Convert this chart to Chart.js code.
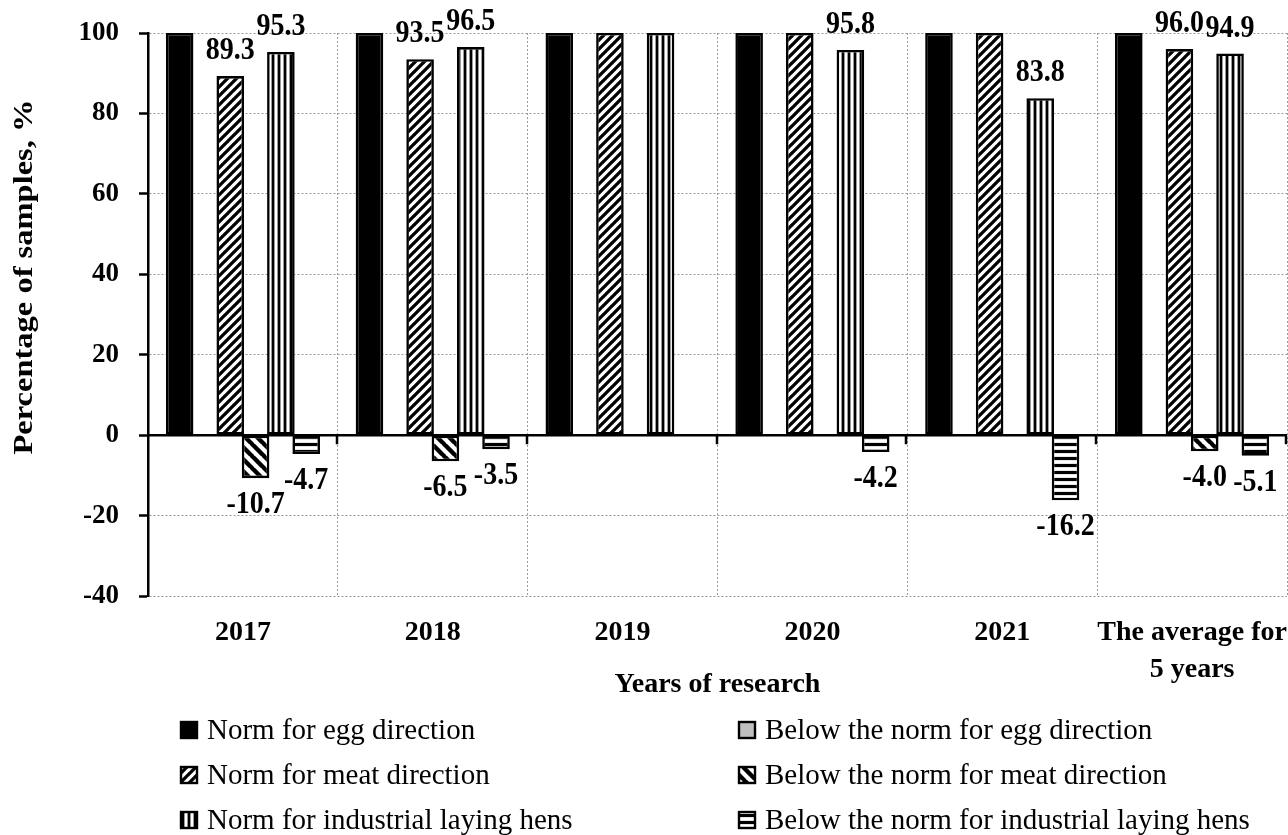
<!DOCTYPE html>
<html>
<head>
<meta charset="utf-8">
<title>Percentage of samples by years of research</title>
<script src="https://cdn.jsdelivr.net/npm/chart.js@4.4.1/dist/chart.umd.min.js"></script>
<style>
  html, body { margin: 0; padding: 0; background: #fff; }
  #wrap { width: 1288px; height: 835px; position: relative; }
  canvas { display: block; }
</style>
</head>
<body>
<div id="wrap"><canvas id="chart" width="1288" height="835"></canvas></div>
<script>
// ---- data ----
const categories = ['2017', '2018', '2019', '2020', '2021', ['The average for', '5 years']];

const eggNorm     = [100, 100, 100, 100, 100, 100];
const eggBelow    = [0, 0, 0, 0, 0, 0];
const meatNorm    = [89.3, 93.5, 100, 100, 100, 96.0];
const meatBelow   = [-10.7, -6.5, 0, 0, 0, -4.0];
const layingNorm  = [95.3, 96.5, 100, 95.8, 83.8, 94.9];
const layingBelow = [-4.7, -3.5, 0, -4.2, -16.2, -5.1];

const seriesNames = [
  'Norm for egg direction',
  'Below the norm for egg direction',
  'Norm for meat direction',
  'Below the norm for meat direction',
  'Norm for industrial laying hens',
  'Below the norm for industrial laying hens'
];

const yMin = -40, yMax = 100, yStep = 20;
const yTitle = 'Percentage of samples, %';
const xTitle = 'Years of research';

// ---- hatch fills ----
const canvas = document.getElementById('chart');
const mainCtx = canvas.getContext('2d');

function hatch(kind, size, lw) {
  const c = document.createElement('canvas');
  c.width = size; c.height = size;
  const g = c.getContext('2d');
  g.fillStyle = '#fff';
  g.fillRect(0, 0, size, size);
  g.strokeStyle = '#000';
  g.lineWidth = lw;
  g.beginPath();
  if (kind === 'fwd') {
    for (let k = -1; k <= 1; k++) { g.moveTo(k * size - 1, size + 1); g.lineTo(k * size + size + 1, -1); }
  } else if (kind === 'back') {
    for (let k = -1; k <= 1; k++) { g.moveTo(k * size - 1, -1); g.lineTo(k * size + size + 1, size + 1); }
  } else if (kind === 'vert') {
    g.moveTo(size / 2, 0); g.lineTo(size / 2, size);
  } else {
    g.moveTo(0, size / 2); g.lineTo(size, size / 2);
  }
  g.stroke();
  return mainCtx.createPattern(c, 'repeat');
}

const fills = [
  '#000000',
  '#bfbfbf',
  hatch('fwd', 9, 3.3),
  hatch('back', 12, 4.4),
  hatch('vert', 6, 2.8),
  hatch('horiz', 7, 3.2)
];

const seriesData = [eggNorm, eggBelow, meatNorm, meatBelow, layingNorm, layingBelow];

const datasets = seriesData.map((d, i) => ({
  label: seriesNames[i],
  data: d,
  backgroundColor: fills[i],
  borderColor: '#000',
  borderWidth: 2.6,
  borderSkipped: false,
  categoryPercentage: 0.8,
  barPercentage: 1.09
}));

const SERIF = '"Liberation Serif", "Times New Roman", serif';

// zero line with its short downward ticks, plus value labels
const zeroAndLabels = {
  id: 'zeroAndLabels',
  afterDatasetsDraw(chart) {
    const { ctx, chartArea, scales } = chart;
    const y0 = scales.y.getPixelForValue(0);
    ctx.save();
    ctx.strokeStyle = '#000';
    ctx.lineWidth = 2.5;
    ctx.beginPath();
    ctx.moveTo(chartArea.left, y0);
    ctx.lineTo(chartArea.right, y0);
    const n = chart.data.labels.length;
    const step = (chartArea.right - chartArea.left) / n;
    for (let i = 1; i <= n; i++) {
      const bx = Math.round(chartArea.left + i * step) - 1;
      ctx.moveTo(bx, y0);
      ctx.lineTo(bx, y0 + 9);
    }
    ctx.stroke();

    ctx.font = 'bold 28px ' + SERIF;
    ctx.fillStyle = '#000';
    ctx.textAlign = 'center';
    ctx.textBaseline = 'middle';
    chart.data.datasets.forEach((ds, di) => {
      const meta = chart.getDatasetMeta(di);
      meta.data.forEach((bar, i) => {
        const v = ds.data[i];
        if (v === 0 || v === 100) return;
        const ty = v > 0 ? bar.y - 25 : bar.y + 27;
        ctx.save();
        ctx.translate(bar.x, ty);
        ctx.scale(1, 1.12);
        ctx.fillText(v.toFixed(1), 0, 0);
        ctx.restore();
      });
    });
    ctx.restore();
  }
};

// rotated y-axis title and two-column legend
const titleAndLegend = {
  id: 'titleAndLegend',
  afterDraw(chart) {
    const ctx = chart.ctx;
    ctx.save();
    ctx.translate(25, 277);
    ctx.rotate(-Math.PI / 2);
    ctx.font = 'bold 27px ' + SERIF;
    ctx.fillStyle = '#000';
    ctx.textAlign = 'center';
    ctx.textBaseline = 'middle';
    const w = ctx.measureText(yTitle).width;
    ctx.scale(355 / w, 1);
    ctx.fillText(yTitle, 0, 0);
    ctx.restore();

    ctx.save();
    ctx.font = '29px ' + SERIF;
    ctx.textAlign = 'left';
    ctx.textBaseline = 'middle';
    const colX = [180, 738];
    chart.data.datasets.forEach((ds, i) => {
      const col = i % 2, row = Math.floor(i / 2);
      const x = colX[col];
      const yc = 730 + row * 45;
      ctx.fillStyle = ds.backgroundColor;
      ctx.fillRect(x, yc - 9, 18, 18);
      ctx.lineWidth = 2.4;
      ctx.strokeStyle = '#000';
      ctx.strokeRect(x + 1, yc - 8, 16, 16);
      ctx.fillStyle = '#000';
      ctx.fillText(ds.label, x + 27, yc + 1);
    });
    ctx.restore();
  }
};

new Chart(canvas, {
  type: 'bar',
  data: { labels: categories, datasets },
  plugins: [zeroAndLabels, titleAndLegend],
  options: {
    responsive: false,
    animation: false,
    devicePixelRatio: 1,
    layout: { padding: { top: 33, right: 1, left: 0, bottom: 133 } },
    plugins: { legend: { display: false }, tooltip: { enabled: false } },
    scales: {
      x: {
        grid: { offset: true, color: '#9a9a9a', lineWidth: 1, drawTicks: false },
        border: { display: false, dash: [2, 2] },
        ticks: {
          color: '#000', padding: 18, maxRotation: 0, autoSkip: false,
          font: { family: SERIF, size: 28, weight: 'bold', lineHeight: 1.32 }
        },
        title: {
          display: true, text: xTitle, color: '#000', padding: { top: 0, bottom: 0 },
          font: { family: SERIF, size: 28, weight: 'bold' }
        },
        afterFit(s) { s.height = 106; s.paddingLeft = 0; s.paddingRight = 0; }
      },
      y: {
        min: yMin, max: yMax,
        ticks: {
          stepSize: yStep, color: '#000', padding: 20,
          font: { family: SERIF, size: 27, weight: 'bold' }
        },
        grid: {
          color: c => (c.tick && c.tick.value === 0) ? 'rgba(0,0,0,0)' : '#9a9a9a',
          lineWidth: 1, tickColor: '#000', tickLength: 9, tickWidth: 2.5, tickBorderDash: []
        },
        border: { display: true, color: '#000', width: 2.5, dash: [2, 2] },
        afterFit(s) { s.width = 148; s.paddingTop = 0; s.paddingBottom = 0; }
      }
    }
  }
});
</script>
</body>
</html>
